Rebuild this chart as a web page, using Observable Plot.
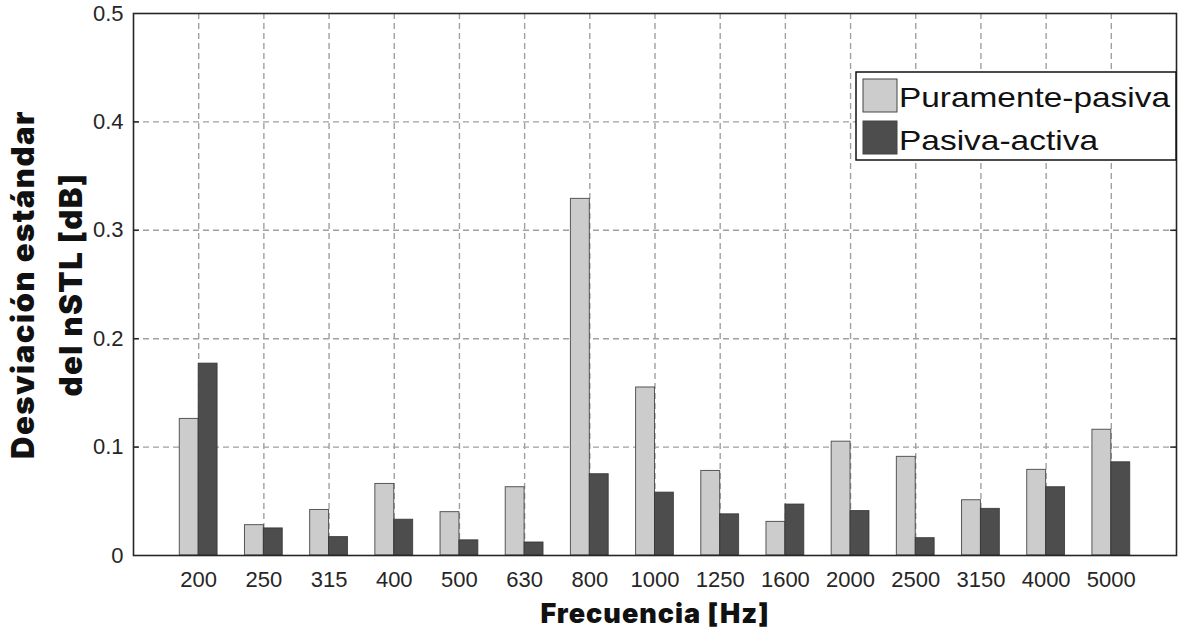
<!DOCTYPE html>
<html><head><meta charset="utf-8">
<script src="https://cdn.jsdelivr.net/npm/d3@7"></script>
<script src="https://cdn.jsdelivr.net/npm/@observablehq/plot@0.6"></script>
<style>
body{margin:0;background:#fff}
#chart{position:relative;width:1181px;height:630px}
</style>
</head><body><div id="chart"></div>
<script>
const frequencies = ["200","250","315","400","500","630","800","1000","1250","1600","2000","2500","3150","4000","5000"];
const puramentePasiva = [0.126,0.028,0.042,0.066,0.040,0.063,0.329,0.155,0.078,0.031,0.105,0.091,0.051,0.079,0.116];
const pasivaActiva    = [0.177,0.025,0.017,0.033,0.014,0.012,0.075,0.058,0.038,0.047,0.041,0.016,0.043,0.063,0.086];
const yTicks = [0,0.1,0.2,0.3,0.4,0.5];
const seriesNames = ["Puramente-pasiva","Pasiva-activa"];
const seriesColors = ["#cccccc","#4d4d4d"];
const xLabel = "Frecuencia [Hz]";
const yLabel1 = "Desviación estándar";
const yLabel2 = "del nSTL [dB]";

const rows = [];
frequencies.forEach((f, i) => {
  rows.push({idx: i + 1, s: 0, value: puramentePasiva[i]});
  rows.push({idx: i + 1, s: 1, value: pasivaActiva[i]});
});
const catIdx = frequencies.map((f, i) => i + 1);
const barW = 0.29;
const gridStyle = {stroke: "#a0a0a0", strokeOpacity: 1, strokeWidth: 1.4, strokeDasharray: "6,4"};
const font = "'Liberation Sans', Arial, Helvetica, sans-serif";
const titleFont = "Inter, 'Liberation Sans', sans-serif";
const titleStyle = {fontWeight: 900, fontFamily: titleFont, fill: "#111", textAnchor: "middle", lineAnchor: "middle"};

const plot = Plot.plot({
  width: 1181, height: 630,
  marginLeft: 133, marginRight: 5, marginTop: 13, marginBottom: 75,
  style: {fontFamily: font, color: "#262626", background: "#fff"},
  x: {domain: [0, 16], axis: null},
  y: {domain: [0, 0.5], axis: null},
  marks: [
    Plot.gridY(yTicks.slice(1, -1), gridStyle),
    Plot.gridX(catIdx, gridStyle),
    Plot.rectY(rows, {
      x1: d => d.idx - barW + d.s * barW,
      x2: d => d.idx + d.s * barW,
      y: "value",
      fill: d => seriesColors[d.s],
      stroke: "#333", strokeOpacity: 0.8, strokeWidth: 1
    }),
    Plot.ruleY(yTicks.slice(1, -1), {x1: 0, x2: 0.09, stroke: "#262626", strokeWidth: 1.5}),
    Plot.ruleY(yTicks.slice(1, -1), {x1: 15.91, x2: 16, stroke: "#262626", strokeWidth: 1.5}),
    Plot.frame({stroke: "#262626", strokeWidth: 1.6}),
    Plot.axisY(yTicks, {tickSize: 0, tickPadding: 10, fontSize: 22, label: null,
      tickFormat: d => String(+d.toFixed(1))}),
    Plot.axisX(catIdx, {tickSize: 0, tickPadding: 16, fontSize: 22, label: null,
      tickFormat: d => frequencies[d - 1]}),
    Plot.text([xLabel], {frameAnchor: "bottom", dy: 59, fontSize: 27, ...titleStyle}),
    Plot.text([yLabel1], {frameAnchor: "left", dx: -109, rotate: -90, fontSize: 31, ...titleStyle}),
    Plot.text([yLabel2], {frameAnchor: "left", dx: -61, rotate: -90, fontSize: 31, ...titleStyle})
  ]
});
document.getElementById("chart").appendChild(plot);

const svg = d3.select(plot);
svg.selectAll("text").filter(function () { return this.textContent === xLabel; }).style("letter-spacing", "1px");
svg.selectAll("text").filter(function () { return this.textContent === yLabel1 || this.textContent === yLabel2; }).style("letter-spacing", "1.5px");

// legend (MATLAB style box, top right)
const lg = svg.append("g").attr("font-family", font).attr("text-anchor", "start");
lg.append("rect").attr("x", 856).attr("y", 72).attr("width", 320).attr("height", 88)
  .attr("fill", "#fff").attr("stroke", "#111").attr("stroke-width", 1.5);
seriesNames.forEach((name, i) => {
  lg.append("rect").attr("x", 863).attr("y", 79 + i * 42).attr("width", 34).attr("height", 33)
    .attr("fill", seriesColors[i]).attr("stroke", "#444").attr("stroke-width", 1);
  lg.append("text").attr("x", 899).attr("y", 107 + i * 43).attr("font-size", 28)
    .attr("fill", "#111").attr("text-anchor", "start").text(name)
    .attr("textLength", i === 0 ? 271 : 199).attr("lengthAdjust", "spacingAndGlyphs");
});
</script>
</body></html>
